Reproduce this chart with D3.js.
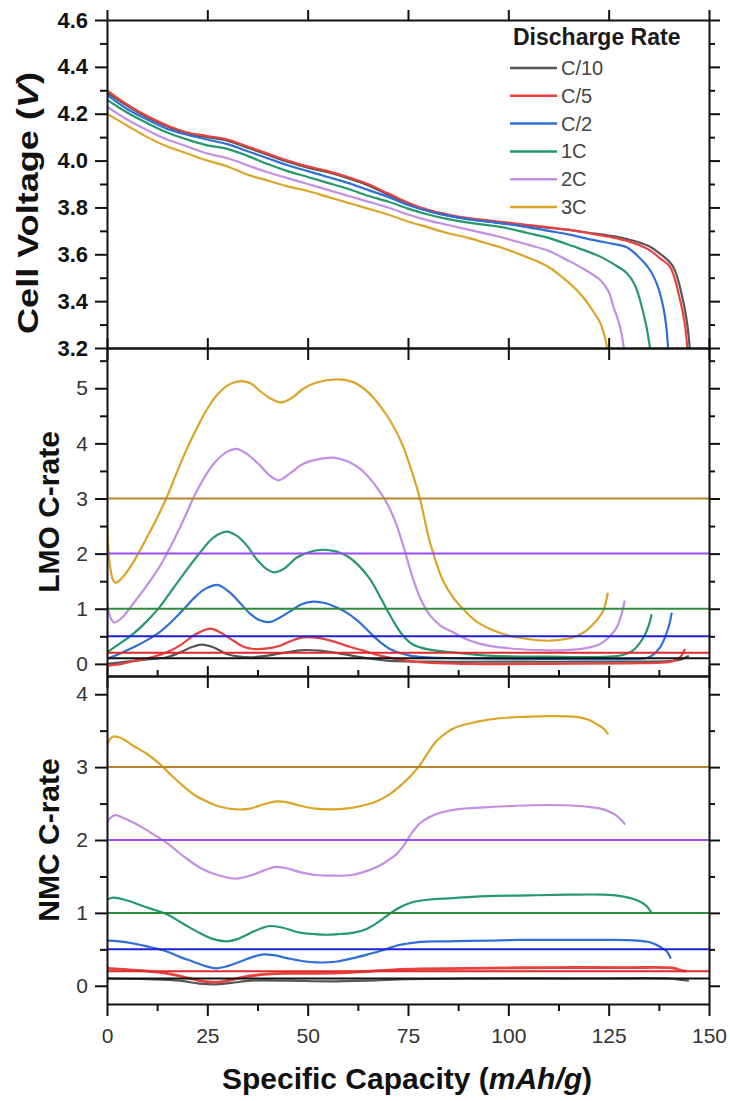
<!DOCTYPE html>
<html>
<head>
<meta charset="utf-8">
<script src="https://cdn.jsdelivr.net/npm/d3@7"></script>
<style>
  html, body { margin: 0; padding: 0; background: #fff; }
  svg { display: block; font-family: "Liberation Sans", Arial, sans-serif; }
  .axis path, .axis line { stroke: #111; stroke-width: 2; }
  .axis text { font-size: 21px; fill: #222; }
</style>
</head>
<body>
<svg id="chart" width="730" height="1101"></svg>
<script>
// Discharge curves + LMO / NMC C-rate panels

const rates = ["C/10", "C/5", "C/2", "1C", "2C", "3C"];
const rateValues = [0.1, 0.2, 0.5, 1, 2, 3];
const curveColors = ["#565656", "#e8413e", "#2f6fd8", "#26996a", "#c28fe3", "#dca527"];
const refColors = ["#111111", "#e02828", "#1f1fe0", "#2e8b3e", "#9a4df2", "#b8832a"];

const xTicks = [0, 25, 50, 75, 100, 125, 150];
const voltTicks = [3.2, 3.4, 3.6, 3.8, 4.0, 4.2, 4.4, 4.6];
const lmoTicks = [0, 1, 2, 3, 4, 5];
const nmcTicks = [0, 1, 2, 3, 4];

// cell voltage (V) vs specific capacity (mAh/g)
const voltC10 = [[0,4.29],[5,4.235],[10,4.185],[15,4.145],[20,4.115],[25,4.10],[30,4.085],[35,4.055],[40,4.025],[45,3.995],[50,3.97],[55,3.95],[60,3.925],[65,3.895],[70,3.855],[75,3.815],[80,3.785],[85,3.765],[90,3.75],[95,3.74],[100,3.73],[105,3.722],[110,3.713],[115,3.704],[120,3.692],[125,3.68],[130,3.663],[135,3.635],[138,3.60],[141.1,3.546],[143.5,3.405],[144.6,3.3],[145.2,3.2]];
const voltC5 = [[0,4.30],[5,4.24],[10,4.19],[15,4.15],[20,4.12],[25,4.105],[30,4.09],[35,4.06],[40,4.03],[45,4.00],[50,3.975],[55,3.955],[60,3.93],[65,3.90],[70,3.86],[75,3.82],[80,3.79],[85,3.77],[90,3.755],[95,3.745],[100,3.735],[105,3.725],[110,3.715],[115,3.705],[120,3.69],[125,3.675],[130,3.655],[135,3.62],[138,3.58],[140.3,3.546],[142.8,3.405],[144,3.3],[144.6,3.2]];
const voltC2 = [[0,4.28],[5,4.22],[10,4.175],[15,4.135],[20,4.11],[25,4.09],[30,4.07],[35,4.04],[40,4.01],[45,3.98],[50,3.955],[55,3.93],[60,3.905],[65,3.875],[70,3.845],[75,3.81],[80,3.785],[85,3.765],[90,3.75],[98,3.733],[105,3.715],[110,3.70],[115,3.685],[120,3.665],[125,3.648],[129.5,3.63],[133,3.58],[135.3,3.533],[137.3,3.46],[138.6,3.375],[139.3,3.3],[139.8,3.2]];
const volt1C = [[0,4.26],[5,4.205],[10,4.16],[15,4.12],[20,4.09],[25,4.065],[30,4.05],[35,4.02],[40,3.985],[45,3.955],[50,3.93],[55,3.905],[60,3.88],[65,3.85],[70,3.825],[75,3.795],[80,3.77],[85,3.75],[90,3.735],[98,3.717],[105,3.69],[110,3.67],[116,3.635],[122.9,3.59],[127,3.55],[129.5,3.52],[131.5,3.47],[132.8,3.405],[134.3,3.3],[135.3,3.2]];
const volt2C = [[0,4.23],[5,4.175],[10,4.13],[15,4.09],[20,4.06],[25,4.03],[30,4.01],[35,3.98],[40,3.95],[45,3.925],[50,3.90],[55,3.875],[60,3.85],[65,3.825],[70,3.80],[75,3.77],[80,3.745],[85,3.725],[90,3.705],[98,3.674],[105,3.64],[110,3.615],[114.6,3.576],[118,3.545],[122.9,3.49],[125,3.44],[126.2,3.375],[127.7,3.3],[128.8,3.2]];
const volt3C = [[0,4.20],[5,4.15],[10,4.10],[15,4.06],[20,4.03],[25,4.00],[30,3.975],[35,3.94],[40,3.915],[45,3.89],[50,3.87],[55,3.845],[60,3.82],[65,3.795],[70,3.77],[75,3.74],[80,3.715],[85,3.69],[90,3.67],[95,3.645],[98,3.63],[105,3.585],[110,3.546],[115,3.48],[118.6,3.418],[121,3.36],[122.9,3.307],[124,3.25],[124.6,3.2]];

// LMO C-rate vs capacity
const lmoC10 = [[0,0.0],[5,0.04],[10,0.08],[14.9,0.12],[18,0.2],[21,0.3],[23.6,0.35],[26.5,0.30],[29.8,0.18],[33,0.13],[36.5,0.12],[40,0.15],[44,0.2],[48.9,0.25],[53,0.24],[57,0.2],[61,0.15],[65,0.1],[69.7,0.06],[80,0.04],[100,0.04],[130,0.04],[140,0.05],[143,0.08],[145,0.15]];
const lmoC5 = [[0,-0.03],[3,-0.01],[6.6,0.05],[10,0.1],[14.9,0.21],[18.5,0.35],[21.5,0.51],[25.7,0.64],[28.5,0.56],[31.5,0.42],[34,0.31],[36.5,0.27],[40,0.28],[43.1,0.33],[46,0.42],[48.9,0.48],[52.5,0.47],[57.2,0.39],[60.5,0.31],[63.9,0.24],[68,0.15],[72.2,0.09],[78,0.03],[90,0.0],[110,0.0],[130,0.01],[138,0.02],[141,0.05],[142.8,0.12],[144,0.27]];
const lmoC2 = [[0,0.09],[3,0.18],[6.6,0.30],[10,0.43],[13,0.57],[16,0.76],[19,0.98],[21.5,1.18],[24.5,1.36],[27.7,1.43],[30.5,1.30],[33.1,1.11],[35.5,0.92],[38.1,0.79],[40.6,0.76],[43.1,0.84],[46,0.97],[48.5,1.08],[51.4,1.13],[54.5,1.1],[57,1.03],[59.7,0.93],[62.5,0.78],[65.5,0.57],[68,0.4],[70.5,0.27],[75.5,0.15],[80,0.12],[90,0.1],[110,0.09],[130,0.09],[135,0.12],[137.8,0.30],[139.9,0.66],[140.7,0.93]];
const lmo1C = [[0,0.21],[3,0.36],[6.6,0.55],[10,0.78],[13,1.02],[16,1.32],[19,1.62],[23.2,2.02],[26.5,2.29],[29.8,2.40],[32.2,2.33],[34.8,2.15],[37.5,1.88],[39.8,1.72],[41.5,1.66],[44,1.72],[47.3,1.93],[50.5,2.03],[53.9,2.07],[57,2.04],[59.7,1.96],[62.5,1.8],[65.5,1.54],[67.8,1.25],[69.7,0.99],[71.8,0.72],[73.8,0.51],[76,0.36],[78,0.30],[82,0.24],[86.3,0.21],[95,0.15],[110,0.13],[125,0.13],[128.5,0.16],[131,0.24],[133.6,0.47],[135,0.7],[135.7,0.90]];
const lmo2C = [[0,1.1],[0.8,0.85],[1.8,0.75],[3.5,0.82],[6.6,1.1],[10,1.43],[13,1.75],[16,2.15],[19,2.6],[22,3.08],[25,3.47],[27.3,3.69],[30,3.85],[32.3,3.90],[35,3.80],[38.1,3.60],[40.5,3.42],[42.7,3.33],[45.5,3.45],[48.9,3.63],[52.5,3.71],[56.4,3.74],[60,3.67],[63,3.54],[65.5,3.36],[68,3.12],[70,2.88],[72,2.55],[74,2.1],[76,1.6],[78,1.2],[80.5,0.88],[83,0.70],[86.3,0.57],[90.5,0.42],[95,0.33],[102,0.27],[108,0.25],[114.5,0.25],[119,0.28],[122.9,0.36],[125.3,0.5],[127,0.66],[128.2,0.9],[129,1.15]];
const lmo3C = [[0,2.5],[0.7,1.8],[1.5,1.52],[2.2,1.47],[4,1.58],[6.6,1.85],[10,2.3],[12.5,2.65],[15,3.04],[17,3.4],[19,3.75],[21,4.07],[23.2,4.39],[25.2,4.65],[27.3,4.87],[30.5,5.07],[33.6,5.13],[36,5.08],[38.1,4.95],[40.6,4.82],[43.3,4.74],[46,4.82],[48.9,4.99],[52,5.1],[57.2,5.16],[61,5.12],[63.9,5.0],[66.5,4.82],[69.7,4.51],[71.8,4.25],[73.8,3.94],[76,3.48],[78,2.99],[80.5,2.2],[83.8,1.5],[86.5,1.18],[88.8,0.99],[92,0.77],[98,0.56],[104,0.46],[110.4,0.42],[115,0.46],[118.6,0.56],[121.5,0.75],[123.6,0.96],[124.8,1.29]];

// NMC C-rate vs capacity
const nmcC10 = [[0,0.1],[10,0.09],[18,0.07],[23,0.03],[27,0.02],[31,0.04],[36,0.07],[45,0.07],[55,0.06],[65,0.07],[75,0.09],[90,0.1],[120,0.1],[140,0.1],[143,0.08],[145,0.07]];
const nmcC5 = [[0,0.24],[5,0.22],[10,0.2],[14.9,0.17],[20,0.11],[24,0.06],[27.3,0.05],[30,0.07],[34,0.12],[40,0.16],[45,0.17],[52,0.17],[60,0.18],[66,0.2],[72,0.22],[78,0.23],[90,0.24],[110,0.25],[130,0.25],[139,0.25],[141.5,0.24],[143,0.21],[144.4,0.2]];
const nmcC2 = [[0,0.62],[3,0.61],[6.6,0.58],[10,0.54],[14.9,0.47],[18,0.4],[21.5,0.33],[24.5,0.27],[27.3,0.24],[30,0.27],[33.1,0.33],[36,0.39],[39,0.43],[41.5,0.42],[44.8,0.38],[48.5,0.34],[52.3,0.32],[57,0.33],[61.4,0.38],[65,0.43],[68.9,0.49],[72,0.55],[75,0.58],[77.6,0.60],[85,0.61],[95,0.62],[102.9,0.63],[115,0.63],[125,0.63],[132,0.62],[135,0.6],[137,0.56],[138.5,0.51],[139.5,0.47],[140.5,0.37]];
const nmc1C = [[0,1.18],[1.6,1.21],[5,1.17],[9.1,1.09],[14.9,0.98],[19,0.85],[23.2,0.72],[26.5,0.64],[29.8,0.61],[32.5,0.64],[35.6,0.72],[38.5,0.79],[40.6,0.82],[43.5,0.8],[48.1,0.73],[51.5,0.71],[54.7,0.70],[58,0.71],[61.5,0.73],[64.7,0.78],[67.5,0.87],[70.5,0.99],[73.5,1.09],[76.3,1.15],[80,1.18],[85,1.2],[94.6,1.23],[105,1.24],[115,1.25],[123.7,1.25],[128,1.23],[131.2,1.19],[133,1.15],[134.5,1.09],[135.7,1.0]];
const nmc2C = [[0,2.24],[0.8,2.3],[2,2.34],[5,2.28],[8.2,2.19],[11.5,2.08],[14.9,1.96],[19,1.78],[23.2,1.62],[27.5,1.52],[32.3,1.47],[36.2,1.52],[39.5,1.59],[42.3,1.63],[45.5,1.6],[48.1,1.56],[52,1.52],[56.4,1.51],[61,1.52],[65,1.58],[68,1.65],[70,1.72],[72,1.8],[74,1.93],[76,2.1],[78,2.23],[80.5,2.32],[83.5,2.38],[87.1,2.42],[95,2.45],[102,2.47],[110,2.48],[117,2.47],[120.5,2.45],[123.7,2.42],[125.5,2.38],[127,2.33],[128.2,2.27],[129.1,2.21]];
const nmc3C = [[0,3.29],[0.7,3.38],[1.6,3.42],[3.5,3.4],[6.6,3.29],[10,3.18],[13.2,3.04],[16,2.89],[19,2.74],[22,2.61],[24.8,2.53],[28,2.46],[32.3,2.42],[35.6,2.43],[38.5,2.48],[42.3,2.53],[45.5,2.51],[48.1,2.47],[52,2.43],[56.4,2.42],[61,2.44],[65,2.49],[67.5,2.54],[70.5,2.63],[73.8,2.78],[76,2.9],[78,3.03],[80,3.2],[82,3.35],[84.5,3.47],[87.1,3.55],[92,3.62],[97.9,3.67],[104,3.69],[110.4,3.70],[117,3.69],[120,3.65],[122,3.59],[123.7,3.53],[124.9,3.45]];

const voltSeries = [voltC10, voltC5, voltC2, volt1C, volt2C, volt3C];
const lmoSeries = [lmoC10, lmoC5, lmoC2, lmo1C, lmo2C, lmo3C];
const nmcSeries = [nmcC10, nmcC5, nmcC2, nmc1C, nmc2C, nmc3C];

(function () {
  const svg = d3.select("#chart");
  const FONT = '"Liberation Sans", Arial, sans-serif';

  const left = 107, right = 709;
  const x = d3.scaleLinear().domain([0, 150]).range([left, right]);

  const panels = [
    { id: "volt", series: voltSeries, refs: false, domain: [3.2, 4.6], range: [348, 20],
      ticks: voltTicks, minorStep: 0.1, fmt: d3.format(".1f"), bold: true,
      topMinor: false, bottomMinor: false, bottomLabels: false },
    { id: "lmo", series: lmoSeries, refs: true, domain: [-0.22, 5.73], range: [676, 348],
      ticks: lmoTicks, minorStep: 0.5, fmt: d3.format("d"), bold: false,
      topMinor: false, bottomMinor: false, bottomLabels: false },
    { id: "nmc", series: nmcSeries, refs: true, domain: [-0.25, 4.25], range: [1004, 676],
      ticks: nmcTicks, minorStep: 0.5, fmt: d3.format("d"), bold: false,
      topMinor: true, bottomMinor: true, bottomLabels: true },
  ];

  const xMinor = d3.range(12.5, 150, 25);

  panels.forEach((p) => {
    const y = d3.scaleLinear().domain(p.domain).range(p.range);
    const g = svg.append("g").attr("class", "panel-" + p.id);

    svg.append("clipPath").attr("id", "clip-" + p.id)
      .append("rect")
      .attr("x", left).attr("y", p.range[1])
      .attr("width", right - left).attr("height", p.range[0] - p.range[1]);

    const plot = g.append("g").attr("clip-path", `url(#clip-${p.id})`);

    const line = d3.line()
      .x((d) => x(d[0]))
      .y((d) => y(d[1]))
      .curve(d3.curveCatmullRom.alpha(0.5));

    plot.selectAll("path.curve")
      .data(p.series)
      .join("path")
      .attr("class", "curve")
      .attr("fill", "none")
      .attr("stroke", (d, i) => curveColors[i])
      .attr("stroke-width", (d, i) => (p.id === "nmc" && i === 1 ? 2.8 : 2.2))
      .attr("stroke-linejoin", "round")
      .attr("d", line);

    if (p.refs) {
      plot.selectAll("line.ref")
        .data(rateValues)
        .join("line")
        .attr("class", "ref")
        .attr("x1", x(0)).attr("x2", x(150))
        .attr("y1", (d) => y(d)).attr("y2", (d) => y(d))
        .attr("stroke", (d, i) => refColors[i])
        .attr("stroke-width", 2);
    }

    // minor ticks between the labelled ones
    const minors = [];
    const start = Math.ceil(p.domain[0] / p.minorStep - 1e-9);
    const stop = Math.floor(p.domain[1] / p.minorStep + 1e-9);
    for (let k = start; k <= stop; k++) {
      const v = +(k * p.minorStep).toFixed(4);
      if (!p.ticks.some((t) => Math.abs(t - v) < 1e-6)) minors.push(v);
    }

    // left axis with labels
    const la = g.append("g").attr("class", "axis")
      .attr("transform", `translate(${left},0)`)
      .call(d3.axisLeft(y).tickValues(p.ticks).tickFormat(p.fmt)
        .tickSize(12).tickSizeOuter(0).tickPadding(7));
    la.selectAll("text")
      .style("font-family", FONT)
      .style("font-weight", p.bold ? "bold" : "normal")
      .style("font-size", p.bold ? "22px" : "21px")
      .style("fill", p.bold ? "#111" : "#333");
    g.append("g").attr("class", "axis")
      .attr("transform", `translate(${left},0)`)
      .call(d3.axisLeft(y).tickValues(minors).tickFormat("").tickSize(7).tickSizeOuter(0))
      .select(".domain").remove();

    // right axis, no labels
    g.append("g").attr("class", "axis")
      .attr("transform", `translate(${right},0)`)
      .call(d3.axisRight(y).tickValues(p.ticks).tickFormat("").tickSize(11).tickSizeOuter(0));
    g.append("g").attr("class", "axis")
      .attr("transform", `translate(${right},0)`)
      .call(d3.axisRight(y).tickValues(minors).tickFormat("").tickSize(6).tickSizeOuter(0))
      .select(".domain").remove();

    // top axis
    g.append("g").attr("class", "axis")
      .attr("transform", `translate(0,${p.range[1]})`)
      .call(d3.axisTop(x).tickValues(xTicks).tickFormat("").tickSize(10).tickSizeOuter(0));
    if (p.topMinor) {
      g.append("g").attr("class", "axis")
        .attr("transform", `translate(0,${p.range[1]})`)
        .call(d3.axisTop(x).tickValues(xMinor).tickFormat("").tickSize(6).tickSizeOuter(0))
        .select(".domain").remove();
    }

    // bottom axis
    const ba = g.append("g").attr("class", "axis")
      .attr("transform", `translate(0,${p.range[0]})`)
      .call(d3.axisBottom(x).tickValues(xTicks)
        .tickFormat(p.bottomLabels ? d3.format("d") : "")
        .tickSize(12).tickSizeOuter(0).tickPadding(12));
    ba.selectAll("text").style("font-family", FONT).style("fill", "#333");
    if (p.bottomMinor) {
      g.append("g").attr("class", "axis")
        .attr("transform", `translate(0,${p.range[0]})`)
        .call(d3.axisBottom(x).tickValues(xMinor).tickFormat("").tickSize(7).tickSizeOuter(0))
        .select(".domain").remove();
    }
  });

  // axis titles
  const title = (tx, ty, rot) =>
    svg.append("text")
      .attr("transform", `translate(${tx},${ty}) rotate(${rot})`)
      .attr("text-anchor", "middle")
      .attr("dominant-baseline", "central")
      .style("font-family", FONT)
      .style("font-weight", "bold")
      .style("font-size", "30px")
      .style("fill", "#111");

  const cv = title(27, 203, -90);
  cv.append("tspan").text("Cell Voltage (");
  cv.append("tspan").style("font-style", "italic").text("V");
  cv.append("tspan").text(")");
  cv.attr("textLength", 262).attr("lengthAdjust", "spacingAndGlyphs");

  title(48, 512, -90).text("LMO C-rate");
  title(48, 840, -90).text("NMC C-rate");

  const xt = title(407, 1078, 0);
  xt.append("tspan").text("Specific Capacity (");
  xt.append("tspan").style("font-style", "italic").text("mAh/g");
  xt.append("tspan").text(")");

  // legend
  const legend = svg.append("g").attr("class", "legend");
  legend.append("text")
    .attr("x", 513).attr("y", 45)
    .style("font-family", FONT).style("font-weight", "bold")
    .style("font-size", "23px").style("fill", "#1a1a1a")
    .text("Discharge Rate");

  const rows = legend.selectAll("g.item")
    .data(rates)
    .join("g")
    .attr("class", "item")
    .attr("transform", (d, i) => `translate(0,${68 + i * 27.8})`);
  rows.append("line")
    .attr("x1", 510).attr("x2", 557)
    .attr("stroke", (d, i) => curveColors[i])
    .attr("stroke-width", 2.5);
  rows.append("text")
    .attr("x", 561).attr("y", 0)
    .attr("dominant-baseline", "central")
    .style("font-family", FONT).style("font-size", "20px").style("fill", "#444")
    .text((d) => d);
})();
</script>
</body>
</html>
